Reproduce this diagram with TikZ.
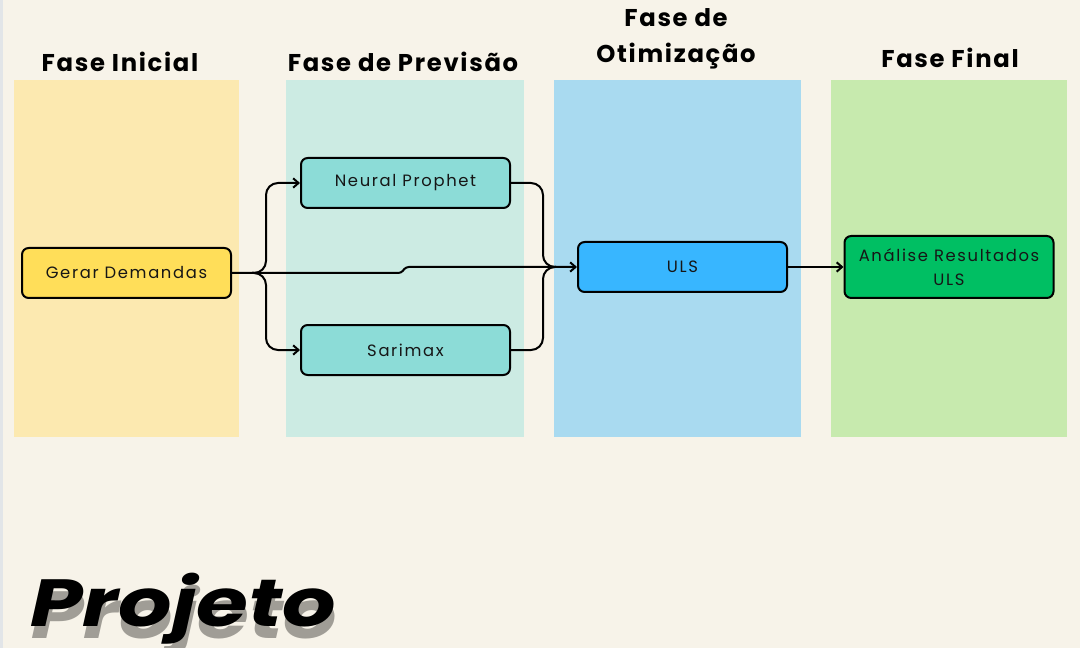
\documentclass[tikz,border=0pt]{standalone}
\usepackage{fontspec}
\usepackage{graphicx}
\setmainfont{Poppins}
\newfontfamily\boxfont{Poppins}[LetterSpace=10]
\newfontfamily\titlefont{Poppins}[LetterSpace=7]
\usetikzlibrary{arrows.meta,calc}
\definecolor{bg}{HTML}{F7F3E9}
\definecolor{strip}{HTML}{E2E5E8}
\definecolor{pone}{HTML}{FCE9B0}
\definecolor{ptwo}{HTML}{CCEBE3}
\definecolor{pthree}{HTML}{A9DAF0}
\definecolor{pfour}{HTML}{C7EAAE}
\definecolor{cgerar}{HTML}{FFDE59}
\definecolor{cmodel}{HTML}{8CDCD7}
\definecolor{culs}{HTML}{38B6FF}
\definecolor{cana}{HTML}{00BF63}
\definecolor{shadowgray}{HTML}{A09D96}
\definecolor{ink}{HTML}{161616}
\tikzset{
  procbox/.style={draw=black, line width=1.5pt, rounded corners=5pt, fill=#1,
    minimum width=156.75pt, minimum height=37.5pt, inner sep=0pt, align=center,
    font=\boxfont\fontsize{12.3pt}{18pt}\selectfont, text=ink},
  phasetitle/.style={font=\titlefont\bfseries\fontsize{18.2pt}{27pt}\selectfont, text=black, align=center},
  conn/.style={line width=1.5pt, rounded corners=9pt},
  arr/.style={line width=1.5pt, -{Straight Barb[length=4pt,width=7pt,line width=1.5pt]}},
  projstyle/.style={font=\bfseries\itshape\fontsize{50pt}{60pt}\selectfont, anchor=base west, inner sep=0pt},
}
\begin{document}
\begin{tikzpicture}[x=0.75pt,y=-0.75pt]
\useasboundingbox (0,0) rectangle (1080,648);
\fill[bg] (0,0) rectangle (1080,648);
\fill[strip] (0,0) rectangle (3,648);
% panels
\fill[pone] (14,80) rectangle (239,437);
\fill[ptwo] (286,80) rectangle (524,437);
\fill[pthree] (554,80) rectangle (801,437);
\fill[pfour] (831,80) rectangle (1067,437);
% titles
\node[phasetitle] (t1) at (120,62) {Fase Inicial};
\node[phasetitle] (t2) at (403,62) {Fase de Previsão};
\node[phasetitle] (t3) at (676,39) {Fase de\\Otimização};
\node[phasetitle] (t4) at (950,58) {Fase Final};
% boxes
\node[procbox=cgerar] (gd) at (126.5,273) {Gerar Demandas};
\node[procbox=cmodel] (np) at (405.5,183) {Neural Prophet};
\node[procbox=cmodel] (sx) at (405.5,350) {Sarimax};
\node[procbox=culs] (uls) at (682.5,267) {ULS};
\node[procbox=cana, minimum height=46.5pt] (an) at (949,267) {Análise Resultados\\ULS};
% coordinates
\coordinate (split) at (252,273);
\coordinate (bx) at (266,0);
\coordinate (jogA) at (401,273);
\coordinate (jogB) at (406,267);
\coordinate (mx) at (543,0);
\coordinate (merge) at (556,267);
% connectors
\draw[line width=1.5pt] (gd.east) -- (split);
\draw[conn] (split) -- (bx |- split) -- (bx |- np.west) -- ($(np.west)+(-3,0)$);
\draw[arr] ($(np.west)+(-4,0)$) -- (np.west);
\draw[conn] (split) -- (bx |- split) -- (bx |- sx.west) -- ($(sx.west)+(-3,0)$);
\draw[arr] ($(sx.west)+(-4,0)$) -- (sx.west);
\draw[line width=1.5pt, rounded corners=2pt] (gd.east) -- (jogA) -- (jogB) -- ($(uls.west)+(-3,0)$);
\draw[arr] ($(uls.west)+(-4,0)$) -- (uls.west);
\draw[conn] (np.east) -- (mx |- np.east) -- (mx |- merge) -- (merge);
\draw[conn] (sx.east) -- (mx |- sx.east) -- (mx |- merge) -- (merge);
\draw[arr] (uls.east) -- (an.west);
% Projeto with shadow
\node[projstyle, text=shadowgray] (projs) at (31,638) {\scalebox{1.26}[1]{Projeto}};
\node[projstyle, text=black] (proj) at (30,626) {\scalebox{1.26}[1]{Projeto}};
\end{tikzpicture}
\end{document}
